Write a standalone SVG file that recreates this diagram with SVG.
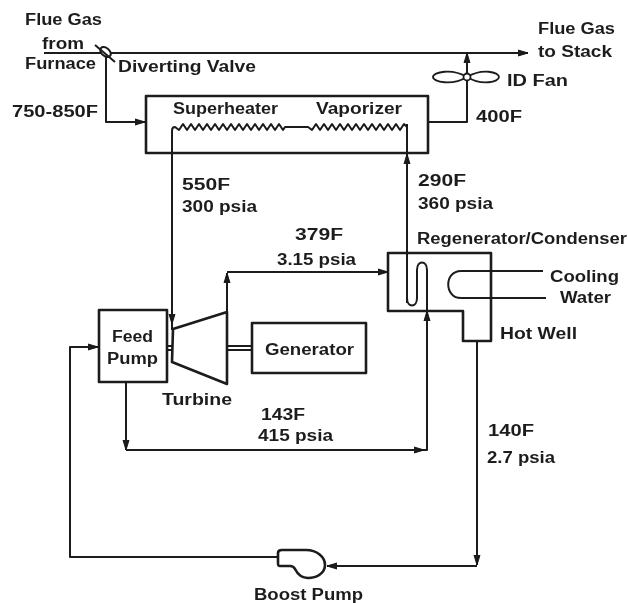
<svg xmlns="http://www.w3.org/2000/svg" width="628" height="603" viewBox="0 0 628 603">
<style>
.l{fill:none;stroke:#1a1a1a;stroke-width:2;stroke-linejoin:round}
.b{fill:none;stroke:#1a1a1a;stroke-width:2.6;stroke-linejoin:round}
.t{font-family:"Liberation Sans",Arial,sans-serif;font-size:16px;font-weight:bold;fill:#1f1f1f}
</style>
<defs>
<filter id="s" x="0" y="0" width="628" height="603" filterUnits="userSpaceOnUse"><feGaussianBlur stdDeviation="0.5"/></filter>
<marker id="a" markerUnits="userSpaceOnUse" markerWidth="12" markerHeight="10" refX="10" refY="5" orient="auto"><path d="M0 2L10 5L0 8Z" fill="#1a1a1a" stroke="#1a1a1a"/></marker>
</defs>
<rect width="628" height="603" fill="#fff"/>
<g filter="url(#s)">
<g id="connectors">
<path class="l" d="M44 53H528" marker-end="url(#a)"/>
<path class="l" d="M106 56V122H145" marker-end="url(#a)"/>
<path class="l" d="M428 122H467V53" marker-end="url(#a)"/>
<path class="l" d="M172 131V324" marker-end="url(#a)"/>
<path class="l" d="M172 324V330"/>
<path class="l" d="M407 303V154" marker-end="url(#a)"/>
<path class="l" d="M407 154V124"/>
<path class="l" d="M227 312V273" marker-end="url(#a)"/>
<path class="l" d="M227 272H388" marker-end="url(#a)"/>
<path class="l" d="M126 382V450" marker-end="url(#a)"/>
<path class="l" d="M126 450H424" marker-end="url(#a)"/>
<path class="l" d="M424 450H427V311" marker-end="url(#a)"/>
<path class="l" d="M477 341V565" marker-end="url(#a)"/>
<path class="l" d="M477 566H327" marker-end="url(#a)"/>
<path class="l" d="M278 557H70V347H98" marker-end="url(#a)"/>
<path class="l" d="M228 346H252M228 350H252M167 346H172M167 350H172"/>
<path class="l" d="M543 271H461C444 271 444 298 461 298H546"/>
<path class="l" d="M407 253V298C407 308 417 308 417 298V270C417 260 427 260 427 270V311"/>
</g>
<g id="diverting-valve">
<ellipse cx="105.500" cy="52" rx="6" ry="4" transform="rotate(40 105.500 52)" fill="#fff" stroke="#1a1a1a" stroke-width="2"/>
<path class="l" d="M95 45L115 62"/>
<text class="t" x="118" y="72" textLength="138" lengthAdjust="spacingAndGlyphs">Diverting Valve</text>
</g>
<g id="labels-inlet">
<text class="t" x="25" y="25" textLength="77" lengthAdjust="spacingAndGlyphs">Flue Gas</text>
<text class="t" x="42" y="49" textLength="42" lengthAdjust="spacingAndGlyphs">from</text>
<text class="t" x="25" y="69" textLength="71" lengthAdjust="spacingAndGlyphs">Furnace</text>
<text class="t" x="12" y="117" textLength="86" lengthAdjust="spacingAndGlyphs">750-850F</text>
</g>
<g id="outlet-label">
<text class="t" x="538" y="34" textLength="77" lengthAdjust="spacingAndGlyphs">Flue Gas</text>
<text class="t" x="538" y="57" textLength="74" lengthAdjust="spacingAndGlyphs">to Stack</text>
</g>
<g id="heat-exchanger">
<rect class="b" x="146" y="96" width="282" height="57"/>
<path class="l" d="M172 131Q172 127 175 127l4 3l4-6l4 6l4-6l4 6l4-6l4 6l4-6l4 6l4-6l4 6l4-6l4 6l4-6l4 6l4-6l4 6l4-6l4 6l4-6l4 6l4-6l4 6l4-6l4 6l4-6l4 6l2-3h23l4 3l4-6l4 6l4-6l4 6l4-6l4 6l4-6l4 6l4-6l4 6l4-6l4 6l4-6l4 6l4-6l4 6l4-6l4 6l4-6l4 6l4-6l4 6l4-6l3 3"/>
<text class="t" x="173" y="114" textLength="105" lengthAdjust="spacingAndGlyphs">Superheater</text>
<text class="t" x="316" y="114" textLength="86" lengthAdjust="spacingAndGlyphs">Vaporizer</text>
</g>
<g id="id-fan">
<path d="M467 77C452 68 433 72 433 77C433 82 452 86 467 77C482 68 499 72 499 77C499 82 482 86 467 77Z" fill="#fff" stroke="#1a1a1a" stroke-width="1.8"/>
<circle cx="467" cy="77" r="3.5" fill="#fff" stroke="#1a1a1a" stroke-width="1.8"/>
<text class="t" x="507" y="86" textLength="61" lengthAdjust="spacingAndGlyphs">ID Fan</text>
<text class="t" x="476" y="122" textLength="46" lengthAdjust="spacingAndGlyphs">400F</text>
</g>
<text class="t" x="182" y="190" textLength="48" lengthAdjust="spacingAndGlyphs">550F</text>
<text class="t" x="182" y="212" textLength="75" lengthAdjust="spacingAndGlyphs">300 psia</text>
<text class="t" x="418" y="186" textLength="48" lengthAdjust="spacingAndGlyphs">290F</text>
<text class="t" x="418" y="209" textLength="75" lengthAdjust="spacingAndGlyphs">360 psia</text>
<text class="t" x="295" y="240" textLength="48" lengthAdjust="spacingAndGlyphs">379F</text>
<text class="t" x="277" y="265" textLength="79" lengthAdjust="spacingAndGlyphs">3.15 psia</text>
<g id="regenerator-condenser">
<path class="b" d="M388 253H491V341H463V311H388Z"/>
<text class="t" x="417" y="244" textLength="210" lengthAdjust="spacingAndGlyphs">Regenerator/Condenser</text>
<text class="t" x="550" y="282" textLength="69" lengthAdjust="spacingAndGlyphs">Cooling</text>
<text class="t" x="560" y="303" textLength="51" lengthAdjust="spacingAndGlyphs">Water</text>
<text class="t" x="500" y="339" textLength="77" lengthAdjust="spacingAndGlyphs">Hot Well</text>
</g>
<g id="feed-pump">
<rect class="b" x="99" y="310" width="68" height="72"/>
<text class="t" x="112" y="342" textLength="41" lengthAdjust="spacingAndGlyphs">Feed</text>
<text class="t" x="107" y="364" textLength="51" lengthAdjust="spacingAndGlyphs">Pump</text>
</g>
<g id="turbine">
<path class="b" d="M173 329L227 312V384L172 362Z"/>
<text class="t" x="162" y="405" textLength="70" lengthAdjust="spacingAndGlyphs">Turbine</text>
</g>
<g id="generator">
<rect class="b" x="252" y="323" width="114" height="50"/>
<text class="t" x="265" y="355" textLength="89" lengthAdjust="spacingAndGlyphs">Generator</text>
</g>
<text class="t" x="261" y="420" textLength="44" lengthAdjust="spacingAndGlyphs">143F</text>
<text class="t" x="258" y="441" textLength="75" lengthAdjust="spacingAndGlyphs">415 psia</text>
<text class="t" x="488" y="436" textLength="46" lengthAdjust="spacingAndGlyphs">140F</text>
<text class="t" x="487" y="463" textLength="68" lengthAdjust="spacingAndGlyphs">2.7 psia</text>
<g id="boost-pump">
<path class="b" d="M278 553C278 551 280 550 282 550H306C317 550 325 557 325 565C325 573 317 578 308 578C300 578 297 573 295 569C294 567 292 566 290 566H280C278 566 278 565 278 563Z" fill="#fff"/>
<text class="t" x="254" y="600" textLength="109" lengthAdjust="spacingAndGlyphs">Boost Pump</text>
</g>
</g>
</svg>
